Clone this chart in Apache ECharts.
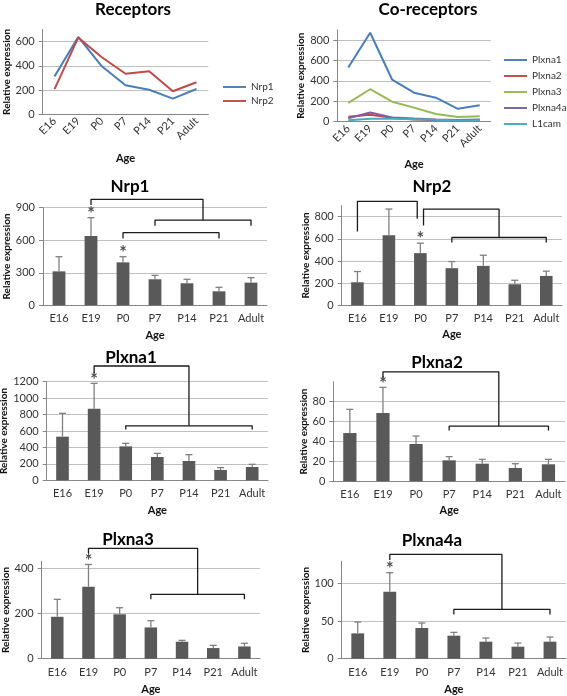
<!DOCTYPE html>
<html>
<head>
<meta charset="utf-8">
<script src="https://cdn.jsdelivr.net/npm/echarts@6/dist/echarts.min.js"></script>
<style>
html, body { margin: 0; padding: 0; background: #fff; }
#main { width: 567px; height: 696px; }
</style>
</head>
<body>
<div id="main"></div>
<script>
var ages = ['E16', 'E19', 'P0', 'P7', 'P14', 'P21', 'Adult'];

// means (relative expression) and upper error bar size
var nrp1Mean = [313, 639, 396, 240, 203, 129, 209];
var nrp1Err = [135, 169, 52, 36, 37, 37, 46];
var nrp2Mean = [208, 633, 471, 335, 356, 190, 265];
var nrp2Err = [97, 236, 90, 60, 96, 36, 43];
var plxna1Mean = [531, 871, 413, 284, 235, 126, 162];
var plxna1Err = [284, 309, 37, 44, 77, 28, 33];
var plxna2Mean = [48.5, 68.6, 37.5, 21.1, 17.7, 13.4, 17.1];
var plxna2Err = [23.8, 25.8, 8.0, 3.7, 4.4, 4.3, 5.0];
var plxna3Mean = [185, 318, 196, 138, 75, 47, 54];
var plxna3Err = [77, 98, 29, 30, 6, 12, 14];
var plxna4aMean = [33.8, 89.3, 40.9, 30.7, 22.7, 16.0, 22.7];
var plxna4aErr = [15.1, 25.4, 6.7, 4.4, 4.9, 4.9, 6.2];
var l1camMean = [15, 30, 30, 25, 18, 12, 15];

// which ages carry a star
var nrp1Stars = [1, 2];
var nrp2Stars = [2];
var plxna1Stars = [1];
var plxna2Stars = [1];
var plxna3Stars = [1];
var plxna4aStars = [1];

// significance brackets: [x1, leg1 bottom, x2, leg2 bottom, top] in (age index, value)
var nrp1Brackets = [[1, 925, 4.5, 786, 977], [3, 734, 6, 734, 786], [2, 617, 5, 617, 670]];
var nrp2Brackets = [[0, 667, 1.9, 781, 938], [2.1, 721, 4.5, 612, 869], [3, 567, 6, 567, 612]];
var plxna1Brackets = [[1, 1302, 4, 663, 1391], [2, 618, 6, 618, 663]];
var plxna2Brackets = [[1, 104, 4.5, 55.4, 110], [3, 51, 6, 51, 55.4]];
var plxna3Brackets = [[1, 465, 4.5, 284, 487], [3, 262, 6, 262, 284]];
var plxna4aBrackets = [[1, 131.6, 4.5, 65.8, 139], [3, 59, 6, 59, 65.8]];

// y axis scales [max, step, hide top line/label]
var receptorsScale = [700, 200, true];
var coreceptorsScale = [900, 200, true];

var font = 'Lato, "Liberation Sans", sans-serif';
var axisGray = '#868686';

var layout = {
	receptors:   {box: [42.7, 29.5, 165.6, 84.8], title: [133, 1], ageGap: 39, relGap: 29},
	coreceptors: {box: [337.3, 29.8, 153.4, 91.9], title: [428, 1], ageGap: 37, relGap: 30},
	Nrp1:    {box: [43, 207.7, 224, 97.6], title: [130, 178], ageGap: 25, relGap: 29},
	Nrp2:    {box: [341.7, 205.6, 220.3, 99.7], title: [432, 178], ageGap: 24, relGap: 27},
	Plxna1:  {box: [46.7, 381.7, 221.3, 98.6], title: [131, 349], ageGap: 25, relGap: 32},
	Plxna2:  {box: [333.3, 381.8, 231.7, 99.5], title: [437, 354], ageGap: 24, relGap: 21},
	Plxna3:  {box: [41.7, 561.3, 218.3, 97.4], title: [128, 531], ageGap: 25, relGap: 30},
	Plxna4a: {box: [341.7, 561.2, 224.3, 97.5], title: [432, 532], ageGap: 25, relGap: 29}
};

var option = {
	animation: false,
	backgroundColor: '#fff',
	title: [],
	grid: [],
	xAxis: [],
	yAxis: [],
	legend: [],
	series: []
};

function addGrid(box) {
	option.grid.push({left: box[0], top: box[1], width: box[2], height: box[3],
		containLabel: false, outerBoundsMode: 'none'});
	return option.grid.length - 1;
}

function addTitle(text, pos) {
	option.title.push({
		text: text, left: pos[0], top: pos[1], padding: 0,
		textAlign: 'center', textVerticalAlign: 'top',
		textStyle: {fontFamily: font, fontSize: 17, fontWeight: 'bold', color: '#000'}
	});
}

function addValueAxis(g, max, step, gap, hideMax) {
	option.yAxis.push({
		type: 'value', gridIndex: g, min: 0, max: max, interval: step,
		name: 'Relative expression', nameLocation: 'middle', nameGap: gap,
		nameTextStyle: {fontFamily: font, fontSize: 10, fontWeight: 'bold', color: '#111'},
		axisLine: {show: true, onZero: false, lineStyle: {color: axisGray}},
		axisTick: {show: true, length: 4, lineStyle: {color: axisGray}},
		axisLabel: {fontFamily: font, fontSize: 11, color: '#333', margin: 8, showMaxLabel: !hideMax,
			formatter: function(v) { return String(v); }},
		splitLine: {show: true, showMaxLine: !hideMax, lineStyle: {color: '#c0c0c0'}}
	});
	return option.yAxis.length - 1;
}

function addCatAxis(g, gap, rotate, margin) {
	option.xAxis.push({
		type: 'category', gridIndex: g, data: ages,
		name: 'Age', nameLocation: 'middle', nameGap: gap,
		nameTextStyle: {fontFamily: font, fontSize: 11, fontWeight: 'bold', color: '#111'},
		axisLine: {onZero: false, lineStyle: {color: axisGray}},
		axisTick: {length: 4, lineStyle: {color: axisGray}},
		axisLabel: {fontFamily: font, fontSize: 11, color: '#333', rotate: rotate, margin: margin, interval: 0}
	});
	return option.xAxis.length - 1;
}

function addHiddenAxis(g) {  // fractional age positions for brackets
	option.xAxis.push({type: 'value', gridIndex: g, min: -0.5, max: 6.5, show: false,
		axisLine: {onZero: false}, splitLine: {show: false}});
	return option.xAxis.length - 1;
}

function renderErr(params, api) {
	var base = api.coord([api.value(0), api.value(1)]);
	var top = api.coord([api.value(0), api.value(2)]);
	var half = 3.5;
	var st = {stroke: '#808080', lineWidth: 1.3};
	return {
		type: 'group',
		children: [
			{type: 'line', shape: {x1: base[0], y1: base[1], x2: top[0], y2: top[1]}, style: st},
			{type: 'line', shape: {x1: top[0] - half, y1: top[1], x2: top[0] + half, y2: top[1]}, style: st}
		]
	};
}

function linePanel(title, lay, scale, names, values, colors, legendPos, legendGap) {
	var g = addGrid(lay.box);
	addTitle(title, lay.title);
	var xi = addCatAxis(g, lay.ageGap, 45, 5);
	var yi = addValueAxis(g, scale[0], scale[1], lay.relGap, scale[2]);
	for (var i = 0; i < names.length; i++) {
		option.series.push({
			name: names[i], type: 'line', xAxisIndex: xi, yAxisIndex: yi,
			data: values[i], symbol: 'none', color: colors[i],
			lineStyle: {width: 2, color: colors[i]}
		});
	}
	option.legend.push({
		data: names, orient: 'vertical', left: legendPos[0], top: legendPos[1],
		itemWidth: 23, itemHeight: 14, itemGap: legendGap, itemStyle: {borderWidth: 0},
		icon: 'path://M0,6L24,6L24,8L0,8Z', padding: 0,
		textStyle: {fontFamily: font, fontSize: 10, color: '#333', overflow: 'none', width: 60}
	});
}

function barPanel(title, mean, err, stars, brackets) {
	var lay = layout[title];
	var g = addGrid(lay.box);
	addTitle(title, lay.title);
	var hideMax = false, max, step;
	if (title == 'Nrp1') { max = 900; step = 300; }
	if (title == 'Nrp2') { max = 900; step = 200; hideMax = true; }
	if (title == 'Plxna1') { max = 1200; step = 200; }
	if (title == 'Plxna2') { max = 100; step = 20; hideMax = true; }
	if (title == 'Plxna3') { max = 430; step = 200; hideMax = true; }
	if (title == 'Plxna4a') { max = 130; step = 50; hideMax = true; }
	var xi = addCatAxis(g, lay.ageGap, 0, 8);
	var hx = addHiddenAxis(g);
	var yi = addValueAxis(g, max, step, lay.relGap, hideMax);

	option.series.push({
		name: title + ' mean', type: 'bar', xAxisIndex: xi, yAxisIndex: yi,
		data: mean, barWidth: '40%', itemStyle: {color: '#595959'}
	});
	option.series.push({
		name: title + ' error', type: 'custom', xAxisIndex: xi, yAxisIndex: yi,
		data: mean.map(function(m, i) { return [i, m, m + err[i]]; }),
		encode: {x: 0, y: [1, 2]}, renderItem: renderErr, z: 3, silent: true
	});
	option.series.push({
		name: title + ' star', type: 'scatter', xAxisIndex: xi, yAxisIndex: yi,
		data: stars.map(function(i) { return [i, mean[i] + err[i]]; }),
		symbolSize: 1, itemStyle: {color: 'transparent'}, z: 4,
		label: {show: true, formatter: '*', position: 'top', distance: 0, offset: [0, 6],
			fontFamily: font, fontSize: 18, fontWeight: 'bold', color: '#222'}
	});
	brackets.forEach(function(b, k) {
		option.series.push({
			name: title + ' bracket ' + k, type: 'line', xAxisIndex: hx, yAxisIndex: yi,
			data: [[b[0], b[1]], [b[0], b[4]], [b[2], b[4]], [b[2], b[3]]],
			symbol: 'none', clip: false, silent: true, z: 5,
			lineStyle: {color: '#1a1a1a', width: 1.3}
		});
	});
}

linePanel('Receptors', layout.receptors, receptorsScale,
	['Nrp1', 'Nrp2'], [nrp1Mean, nrp2Mean],
	['#4a7ebb', '#be4b48'], [223, 82], 4);
linePanel('Co-receptors', layout.coreceptors, coreceptorsScale,
	['Plxna1', 'Plxna2', 'Plxna3', 'Plxna4a', 'L1cam'],
	[plxna1Mean, plxna2Mean, plxna3Mean, plxna4aMean, l1camMean],
	['#4a7ebb', '#be4b48', '#98b954', '#7d60a0', '#46aac5'], [504, 55], 6);

barPanel('Nrp1', nrp1Mean, nrp1Err, nrp1Stars, nrp1Brackets);
barPanel('Nrp2', nrp2Mean, nrp2Err, nrp2Stars, nrp2Brackets);
barPanel('Plxna1', plxna1Mean, plxna1Err, plxna1Stars, plxna1Brackets);
barPanel('Plxna2', plxna2Mean, plxna2Err, plxna2Stars, plxna2Brackets);
barPanel('Plxna3', plxna3Mean, plxna3Err, plxna3Stars, plxna3Brackets);
barPanel('Plxna4a', plxna4aMean, plxna4aErr, plxna4aStars, plxna4aBrackets);

echarts.init(document.getElementById('main')).setOption(option);
</script>
</body>
</html>
